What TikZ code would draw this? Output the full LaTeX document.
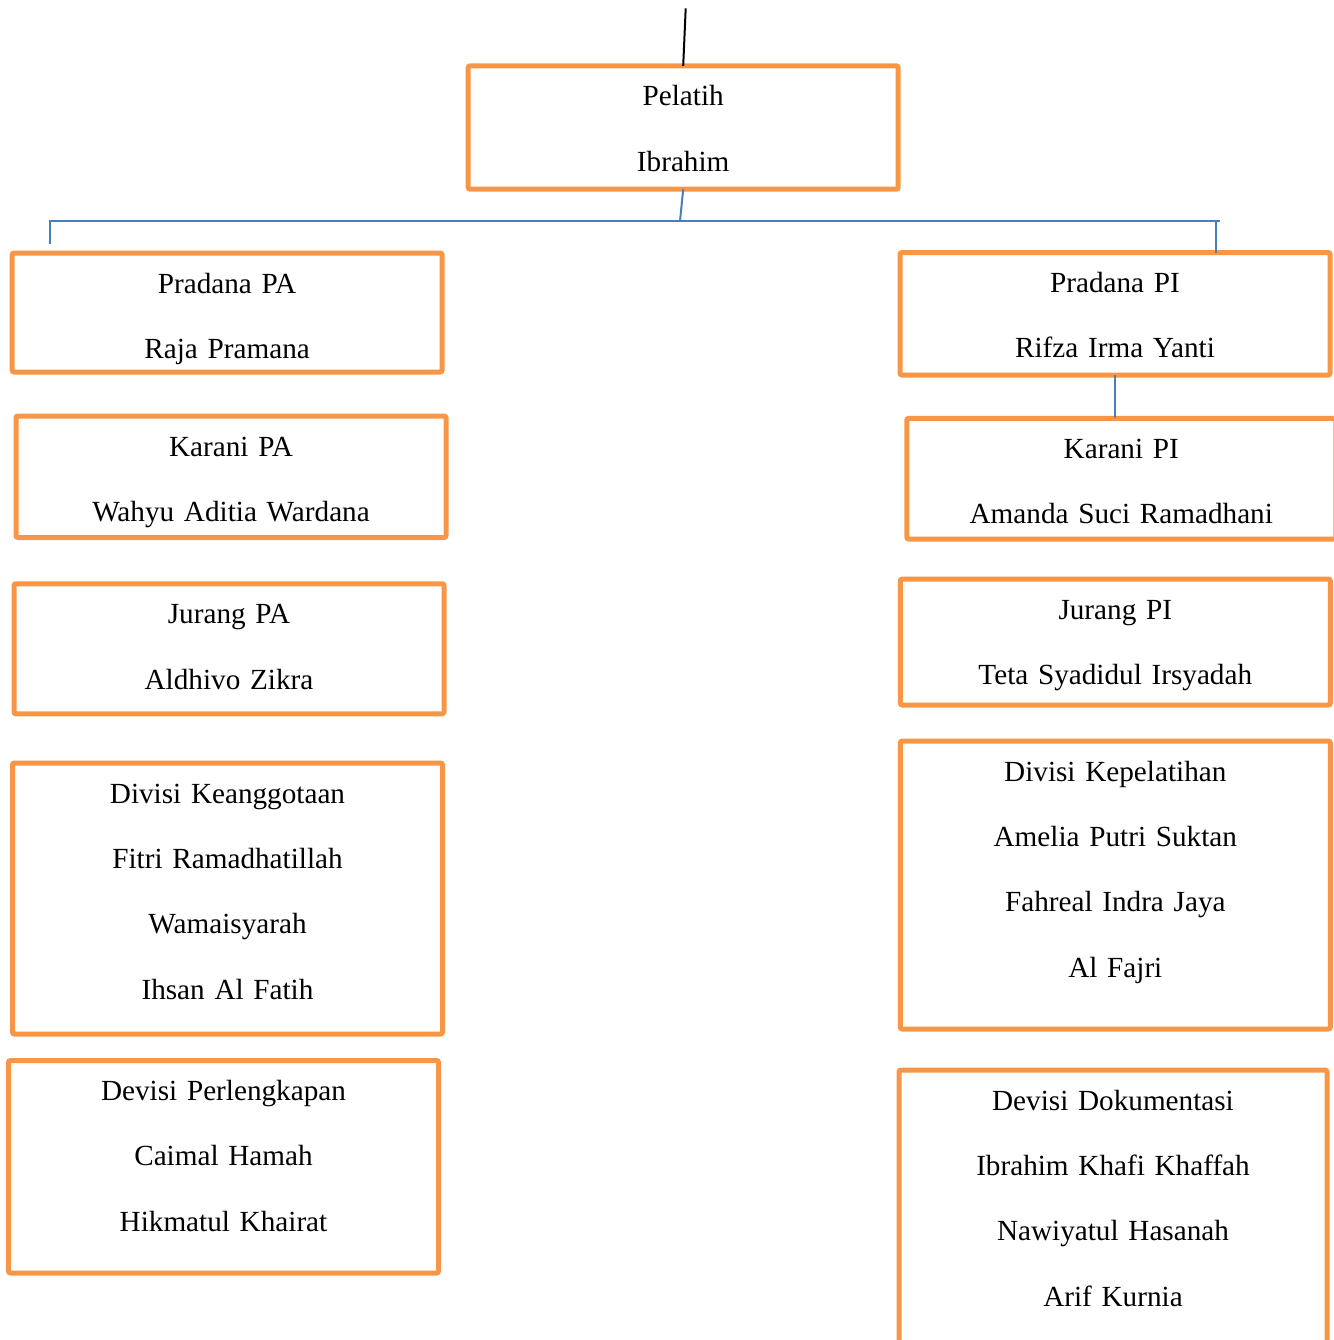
\documentclass[tikz,border=0pt]{standalone}
\usepackage{fontspec}
\setmainfont{Liberation Serif}
\definecolor{kotak}{HTML}{F79646}
\definecolor{garis}{HTML}{4A7EBB}

\begin{document}
\begin{tikzpicture}[x=0.5pt, y=-0.5pt,
    jabatan/.style={draw=kotak, line width=2.5pt, rounded corners=1pt,
        anchor=north, inner sep=0pt, outer sep=0pt, align=center, text width=215pt,
        text height=20pt, font=\fontsize{14.6pt}{32.7pt}\selectfont},
    cabang/.style={draw=garis, line width=1pt}]

\useasboundingbox (0,0) rectangle (1334,1340);

% ==== PELATIH ====
\node[jabatan, text depth=41.7pt] (pelatih) at (683.2,65.8) {Pelatih\\Ibrahim};

% ==== KIRI (PA) ====
\node[jabatan, text depth=39.5pt] (pradanaPA) at (227.1,253) {Pradana PA\\Raja Pramana};
\node[jabatan, text depth=40.75pt] (karaniPA) at (231,416) {Karani PA\\Wahyu Aditia Wardana};
\node[jabatan, text depth=45pt] (jurangPA) at (229,583.8) {Jurang PA\\Aldhivo Zikra};
\node[jabatan, text depth=115.5pt] (keanggotaan) at (227.5,763)
    {Divisi Keanggotaan\\Fitri Ramadhatillah\\Wamaisyarah\\Ihsan Al Fatih};
\node[jabatan, text depth=86.25pt] (perlengkapan) at (223.5,1060.5)
    {Devisi Perlengkapan\\Caimal Hamah\\Hikmatul Khairat};

% ==== KANAN (PI) ====
\node[jabatan, text depth=41.25pt] (pradanaPI) at (1115,252.5) {Pradana PI\\Rifza Irma Yanti};
\node[jabatan, text depth=40.35pt, text width=214.5pt] (karaniPI) at (1121.3,418.3)
    {Karani PI\\Amanda Suci Ramadhani};
\node[jabatan, text depth=43pt] (jurangPI) at (1115.3,579) {Jurang PI\\Teta Syadidul Irsyadah};
\node[jabatan, text depth=124pt] (kepelatihan) at (1115.3,741)
    {Divisi Kepelatihan\\Amelia Putri Suktan\\Fahreal Indra Jaya\\Al Fajri};
\node[jabatan, text depth=125pt, text width=214pt] (dokumentasi) at (1113,1070)
    {Devisi Dokumentasi\\Ibrahim Khafi Khaffah\\Nawiyatul Hasanah\\Arif Kurnia};

% ==== GARIS ====
\coordinate (atas) at (685.7,8.3);
\coordinate (simpul) at (680,221);
\coordinate (ujungL) at (48.5,221);
\coordinate (ujungR) at (1220,221);
\coordinate (tikL) at (49.7,221);
\coordinate (tikLbawah) at (49.7,244.3);
\coordinate (tikR) at (1216.3,221);

\draw[line width=1pt] (atas) -- (pelatih.north);
\draw[cabang] (pelatih.south) -- (simpul);
\draw[cabang] (ujungL) -- (ujungR);
\draw[cabang] (tikL) -- (tikLbawah);
\draw[cabang] (tikR) -- (tikR |- pradanaPI.north);
\draw[cabang] (pradanaPI.south) -- (pradanaPI.south |- karaniPI.north);

\end{tikzpicture}
\end{document}
